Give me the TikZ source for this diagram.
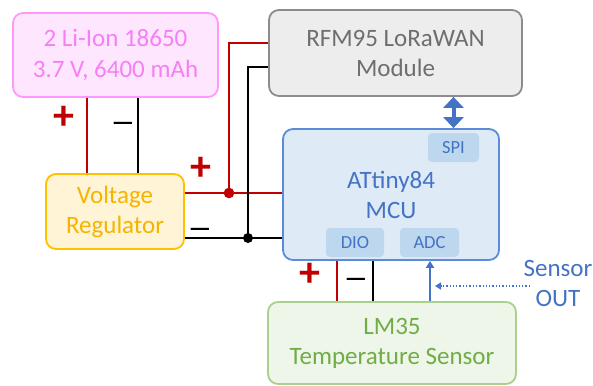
\documentclass[tikz,border=0pt]{standalone}
\usepackage{fontspec}
\setmainfont{Carlito}
\usepackage{xcolor}
\usepackage{tikz}
\usetikzlibrary{arrows.meta,positioning,calc}

\definecolor{batfill}{HTML}{FFE6FF}
\definecolor{batline}{HTML}{FF99FF}
\definecolor{battext}{HTML}{F57FF5}
\definecolor{rfmfill}{HTML}{EDEDED}
\definecolor{rfmline}{HTML}{8C8C8C}
\definecolor{rfmtext}{HTML}{6E6E6E}
\definecolor{mcufill}{HTML}{DEEBF7}
\definecolor{mculine}{HTML}{5B8BD9}
\definecolor{mcutext}{HTML}{4472C4}
\definecolor{mcusub}{HTML}{BDD7EE}
\definecolor{regfill}{HTML}{FFF5D6}
\definecolor{regline}{HTML}{FFC000}
\definecolor{regtext}{HTML}{F5B400}
\definecolor{lmfill}{HTML}{EEF5E9}
\definecolor{lmline}{HTML}{A9D18E}
\definecolor{lmtext}{HTML}{70AD47}
\definecolor{wirered}{HTML}{C00000}

\begin{document}
\begin{tikzpicture}[x=1pt, y=-1pt,
  box/.style={draw, rounded corners=10pt, line width=1.8pt, align=center, inner sep=0pt, font=\fontsize{25}{30}\selectfont},
  pin/.style={fill=mcusub, rounded corners=4pt, inner sep=0pt, minimum height=29pt, text=mcutext, font=\fontsize{18.5}{20}\selectfont},
  wire/.style={line width=2pt},
  plus/.style={inner sep=0pt, text=wirered, font=\fontsize{42}{42}\selectfont\bfseries},
  minus/.style={inner sep=0pt, yshift=-4pt, font=\fontsize{25}{25}\selectfont\bfseries}]
  \useasboundingbox (0,0) rectangle (593,385);

  % Boxes
  \node[box, draw=batline, fill=batfill, text=battext, minimum width=205pt, minimum height=84pt] (bat) at (115.5,55) {2 Li-Ion 18650\\3.7 V, 6400 mAh};
  \node[box, draw=rfmline, fill=rfmfill, text=rfmtext, minimum width=253pt, minimum height=86pt] (rfm) at (395.5,53) {RFM95 LoRaWAN\\Module};
  \node[box, draw=mculine, fill=mcufill, text=mcutext, minimum width=216pt, minimum height=131pt] (mcu) at (391,194.5) {ATtiny84\\MCU};
  \node[box, draw=regline, fill=regfill, text=regtext, minimum width=138pt, minimum height=75pt] (reg) at (115,211.5) {Voltage\\Regulator};
  \node[box, draw=lmline, fill=lmfill, text=lmtext, minimum width=248pt, minimum height=82pt] (lm) at (392,343) {LM35\\Temperature Sensor};

  % MCU ports
  \node[pin, minimum width=51pt] (spi) at (453.5,147.5) {SPI};
  \node[pin, minimum width=58pt] (dio) at (355,242.5) {DIO};
  \node[pin, minimum width=59pt] (adc) at (429.5,242.5) {ADC};

  % Battery to regulator
  \coordinate (batp) at ([xshift=-28.5pt]bat.south);
  \coordinate (batm) at ([xshift=22.5pt]bat.south);
  \draw[wire, wirered] (batp) -- (batp |- reg.north);
  \draw[wire] (batm) -- (batm |- reg.north);
  \node[plus] at (64,118) {+};
  \node[minus] at (123,122) {—};

  % Regulator to MCU and RFM95
  \coordinate (regp) at ([yshift=18.5pt]reg.east);
  \coordinate (regm) at ([yshift=-26.5pt]reg.east);
  \coordinate (jp) at (229,193);
  \coordinate (jm) at (248,238);
  \draw[wire, wirered] (regp) -- (regp -| mcu.west);
  \draw[wire] (regm) -- (regm -| mcu.west);
  \draw[wire, wirered] (jp) |- ([yshift=10pt]rfm.west);
  \draw[wire] (jm) |- ([yshift=-14pt]rfm.west);
  \fill[wirered] (jp) circle (5.3pt);
  \fill (jm) circle (5pt);
  \node[plus] at (201,169) {+};
  \node[minus] at (200,228) {—};

  % SPI link
  \draw[line width=4pt, mcutext, {Triangle[width=20pt,length=11pt]}-{Triangle[width=20pt,length=11pt]}] (spi.north |- rfm.south) -- (spi.north |- mcu.north);

  % LM35 to MCU
  \coordinate (lmp) at ([xshift=-55pt]lm.north);
  \coordinate (lmm) at ([xshift=-19pt]lm.north);
  \coordinate (lmo) at ([xshift=38pt]lm.north);
  \draw[wire, wirered] (lmp) -- (lmp |- mcu.south);
  \draw[wire] (lmm) -- (lmm |- mcu.south);
  \draw[line width=1.8pt, mcutext, -{Triangle[width=8pt,length=7pt]}] (lmo) -- (lmo |- mcu.south);
  \node[plus] at (310,275) {+};
  \node[minus] at (356,278) {—};

  % Sensor output
  \node[align=center, inner sep=0pt, text=mcutext, font=\fontsize{25}{30}\selectfont] (sens) at (558,283) {Sensor\\OUT};
  \coordinate (sout) at (530,286);
  \draw[line width=1.3pt, dotted, mcutext, -{Triangle[width=7pt,length=6pt]}] (sout) -- ([xshift=5pt]sout -| lmo);
\end{tikzpicture}
\end{document}
